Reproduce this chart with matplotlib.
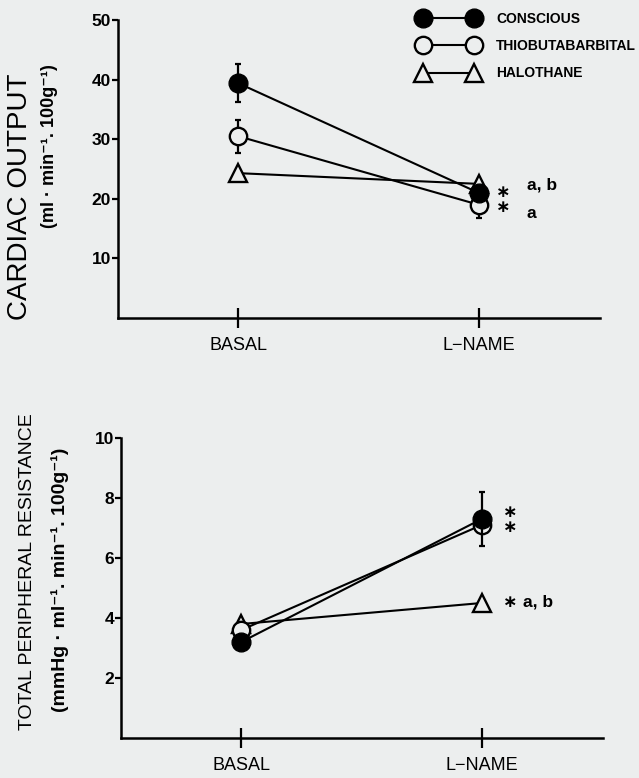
"""
Cardiac output and total peripheral resistance, basal vs L-NAME.
"""

import matplotlib

matplotlib.use("Agg")
import matplotlib.pyplot as plt

plt.rcParams["font.family"] = ["Liberation Sans", "DejaVu Sans"]

BG = "#eceeee"

# data
conditions = ["BASAL", "L\u2212NAME"]
groups = ["CONSCIOUS", "THIOBUTABARBITAL", "HALOTHANE"]

co_conscious = [39.4, 21.0]
co_conscious_err = [3.2, 0.0]
co_thio = [30.5, 19.0]
co_thio_err = [2.8, 2.2]
co_halothane = [24.3, 22.5]

tpr_conscious = [3.2, 7.3]
tpr_conscious_err = [0.0, 0.9]
tpr_thio = [3.6, 7.1]
tpr_halothane = [3.8, 4.5]

co_ticks = [10, 20, 30, 40, 50]
tpr_ticks = [2, 4, 6, 8, 10]

fig = plt.figure(figsize=(6.39, 7.78), dpi=100, facecolor=BG)
ax_co = fig.add_axes([0.1847, 0.5913, 0.7543, 0.383])
ax_tpr = fig.add_axes([0.1894, 0.0514, 0.7543, 0.3856])

styles = {
    "CONSCIOUS": dict(marker="o", mfc="black", mec="black", ms=13.5),
    "THIOBUTABARBITAL": dict(marker="o", mfc=BG, mec="black", ms=12.5, mew=1.7),
    "HALOTHANE": dict(marker="^", mfc=BG, mec="black", ms=12.5, mew=1.7),
}

x = list(range(len(conditions)))


def draw(ax, series, ylim, ticks):
    ax.set_facecolor(BG)
    for name, vals, err, z in series:
        st = styles[name]
        if err is not None:
            ax.errorbar(x, vals, yerr=err, fmt="none", ecolor="black",
                        elinewidth=1.6, capsize=2.5, capthick=1.6, zorder=z)
        ax.plot(x, vals, color="black", lw=1.5, label=name, zorder=z, **st)
    ax.set_xlim(-0.5, 1.505)
    ax.set_ylim(*ylim)
    ax.set_yticks(ticks)
    ax.set_yticklabels([str(t) for t in ticks], fontsize=12.5, fontweight="bold")
    ax.set_xticks(x)
    ax.set_xticklabels(conditions, fontsize=13)
    ax.tick_params(axis="y", direction="out", length=4, width=1.6, pad=1)
    ax.tick_params(axis="x", direction="inout", length=14, width=1.6, pad=7)
    for side in ("top", "right"):
        ax.spines[side].set_visible(False)
    for side in ("left", "bottom"):
        ax.spines[side].set_linewidth(1.8)


draw(ax_co, [("HALOTHANE", co_halothane, None, 3),
             ("THIOBUTABARBITAL", co_thio, co_thio_err, 4),
             ("CONSCIOUS", co_conscious, co_conscious_err, 5)],
     (0, 50), co_ticks)
draw(ax_tpr, [("HALOTHANE", tpr_halothane, None, 3),
              ("THIOBUTABARBITAL", tpr_thio, None, 4),
              ("CONSCIOUS", tpr_conscious, tpr_conscious_err, 5)],
     (0, 10), tpr_ticks)

# significance marks
ann = dict(fontsize=12.5, fontweight="bold", ha="center", va="center")
ax_co.text(1.104, 21.0, "\u2217", **ann)
ax_co.text(1.104, 18.5, "\u2217", **ann)
ax_co.text(1.2625, 22.3, "a, b", **ann)
ax_co.text(1.22, 17.6, "a", **ann)
ax_tpr.text(1.117, 7.53, "\u2217", **ann)
ax_tpr.text(1.117, 7.03, "\u2217", **ann)
ax_tpr.text(1.117, 4.53, "\u2217", **ann)
ax_tpr.text(1.233, 4.53, "a, b", **ann)

# y labels
fig.text(20 / 639, 1 - 197 / 778, "CARDIAC OUTPUT", rotation=90,
         ha="center", va="center", fontsize=20)
fig.text(50 / 639, 1 - 146 / 778, "(ml \u00b7 min\u207b\u00b9. 100g\u207b\u00b9)",
         rotation=90, ha="center", va="center", fontsize=13, fontweight="bold")
fig.text(28 / 639, 1 - 572 / 778, "TOTAL PERIPHERAL RESISTANCE", rotation=90,
         ha="center", va="center", fontsize=14)
fig.text(60 / 639, 1 - 580 / 778,
         "(mmHg \u00b7 ml\u207b\u00b9. min\u207b\u00b9. 100g\u207b\u00b9)",
         rotation=90, ha="center", va="center", fontsize=14, fontweight="bold")

# legend
handles, labels = ax_co.get_legend_handles_labels()
order = [labels.index(g) for g in groups]
fig.legend([handles[i] for i in order], [labels[i] for i in order],
           loc="upper left", bbox_to_anchor=(419 / 639, 1 - 12 / 778),
           frameon=False, numpoints=2, handlelength=4.27, handletextpad=1.3,
           labelspacing=0.95, borderpad=0, borderaxespad=0,
           prop=dict(size=10, weight="bold"))

fig.savefig("out.png", dpi=100, facecolor=BG)
